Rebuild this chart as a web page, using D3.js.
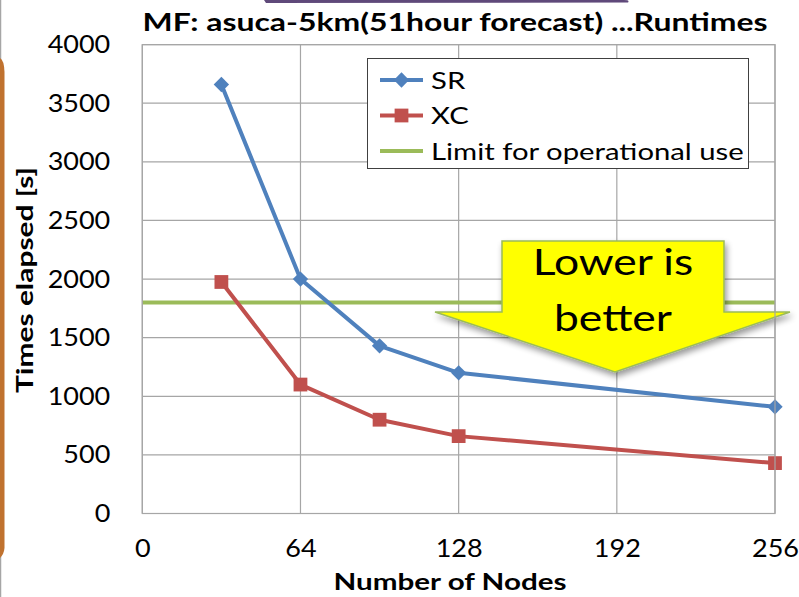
<!DOCTYPE html>
<html>
<head>
<meta charset="utf-8">
<script src="https://cdn.jsdelivr.net/npm/d3@7"></script>
<style>
  body { margin: 0; background: #fff; }
  svg { display: block; font-family: Lato, "Open Sans", sans-serif; }
</style>
</head>
<body>
<svg id="chart" width="799" height="597"></svg>
<script>
// data
const nodes = [32, 64, 96, 128, 256];
const srTimes = [3660, 2000, 1430, 1200, 910];
const xcTimes = [1975, 1100, 800, 660, 430];
const limitNodes = [0, 256];
const limitTimes = [1800, 1800];
const xTicks = [0, 64, 128, 192, 256];
const yTicks = [0, 500, 1000, 1500, 2000, 2500, 3000, 3500, 4000];

const series = [
  { name: 'SR', color: '#4f81bd', marker: 'diamond', values: srTimes.map((v, i) => ({ x: nodes[i], y: v })) },
  { name: 'XC', color: '#c0504d', marker: 'square', values: xcTimes.map((v, i) => ({ x: nodes[i], y: v })) },
  { name: 'Limit for operational use', color: '#9bbb59', marker: null, values: limitTimes.map((v, i) => ({ x: limitNodes[i], y: v })) }
];

const svg = d3.select('#chart');
const pL = 142.3, pR = 775, pT = 44.6, pB = 513.5;

const x = d3.scaleLinear().domain([0, 256]).range([pL, pR]);
const y = d3.scaleLinear().domain([0, 4000]).range([pB, pT]);

// the slide was stretched sideways, so widen text a bit
function widen(sel, k) {
  sel.each(function() {
    const w = this.getComputedTextLength();
    d3.select(this).attr('textLength', w * k).attr('lengthAdjust', 'spacingAndGlyphs');
  });
}

// slide decorations at the edges
svg.append('line').attr('x1', 0.5).attr('x2', 0.5).attr('y1', 0).attr('y2', 597)
  .attr('stroke', '#a6a6a6').attr('stroke-width', 1.5);
svg.append('path')
  .attr('d', 'M0 58 Q4 60 4.5 72 L4.5 548 Q4 554 0 558 Z')
  .attr('fill', '#c0722f');
svg.append('path')
  .attr('d', 'M264 0 L624 0 Q630 0 628 2.5 L266 3 Z')
  .attr('fill', '#5f497a');

// gridlines
const grid = svg.append('g').attr('stroke', '#a6a6a6').attr('stroke-width', 1.2);
grid.selectAll('.h').data(yTicks).enter().append('line')
  .attr('x1', pL).attr('x2', pR)
  .attr('y1', d => y(d)).attr('y2', d => y(d));
grid.selectAll('.v').data(xTicks).enter().append('line')
  .attr('y1', pT).attr('y2', pB)
  .attr('x1', d => x(d)).attr('x2', d => x(d));

// axes (labels only, Excel style)
const yAxis = svg.append('g').attr('transform', `translate(${pL},0)`)
  .call(d3.axisLeft(y).tickValues(yTicks).tickFormat(d3.format('d')).tickSize(0).tickPadding(32));
yAxis.select('.domain').remove();
yAxis.selectAll('text').attr('font-size', 25).attr('fill', '#000').attr('font-family', 'Lato')
  .call(widen, 1.08);

const xAxis = svg.append('g').attr('transform', `translate(0,${pB})`)
  .call(d3.axisBottom(x).tickValues(xTicks).tickSize(0).tickPadding(26));
xAxis.select('.domain').remove();
xAxis.selectAll('text').attr('font-size', 25).attr('fill', '#000').attr('font-family', 'Lato')
  .call(widen, 1.08);

// lines
const line = d3.line().x(d => x(d.x)).y(d => y(d.y));
const diamond = d3.symbol().type(d3.symbolDiamond2).size(150);
const square = d3.symbol().type(d3.symbolSquare).size(190);

series.slice().reverse().forEach(s => {
  svg.append('path').datum(s.values)
    .attr('d', line).attr('fill', 'none')
    .attr('stroke', s.color).attr('stroke-width', 4).attr('stroke-linejoin', 'round');
  if (s.marker) {
    svg.selectAll(null).data(s.values).enter().append('path')
      .attr('transform', d => `translate(${x(d.x)},${y(d.y)})`)
      .attr('d', s.marker === 'diamond' ? diamond() : square())
      .attr('fill', s.color);
  }
});

// "Lower is better" block arrow with shadow
const defs = svg.append('defs');
const f = defs.append('filter').attr('id', 'shadow').attr('x', '-20%').attr('y', '-20%').attr('width', '140%').attr('height', '150%');
f.append('feGaussianBlur').attr('in', 'SourceAlpha').attr('stdDeviation', 3);
f.append('feOffset').attr('dx', 2).attr('dy', 4).attr('result', 'b');
f.append('feComponentTransfer').append('feFuncA').attr('type', 'linear').attr('slope', 0.4);
const m = f.append('feMerge');
m.append('feMergeNode');
m.append('feMergeNode').attr('in', 'SourceGraphic');

svg.append('path')
  .attr('d', 'M502 241 L724 241 L724 312 L790 312 L615 372 L435 312 L502 312 Z')
  .attr('fill', '#ffff00').attr('stroke', '#9bbb59').attr('stroke-width', 1.5)
  .attr('filter', 'url(#shadow)');
svg.append('text').attr('x', 613).attr('y', 275).attr('text-anchor', 'middle')
  .attr('font-size', 37).text('Lower is').call(widen, 1.2);
svg.append('text').attr('x', 613).attr('y', 331).attr('text-anchor', 'middle')
  .attr('font-size', 37).text('better').call(widen, 1.2);

// legend
const lg = svg.append('g');
lg.append('rect').attr('x', 367.5).attr('y', 58.5).attr('width', 381).attr('height', 110)
  .attr('fill', '#fff').attr('stroke', '#404040').attr('stroke-width', 1);
series.forEach((s, i) => {
  const ly = 80 + i * 35.5;
  lg.append('line').attr('x1', 380).attr('x2', 423).attr('y1', ly).attr('y2', ly)
    .attr('stroke', s.color).attr('stroke-width', 4);
  if (s.marker) {
    lg.append('path').attr('transform', `translate(401.5,${ly})`)
      .attr('d', s.marker === 'diamond' ? diamond() : square()).attr('fill', s.color);
  }
  lg.append('text').attr('x', 431).attr('y', ly).attr('dy', '0.36em')
    .attr('font-size', 24).text(s.name).call(widen, 1.22);
});

// plot border
svg.append('rect').attr('x', pL).attr('y', pT).attr('width', pR - pL).attr('height', pB - pT)
  .attr('fill', 'none').attr('stroke', '#a6a6a6').attr('stroke-width', 1.2);

// titles
svg.append('text').attr('x', 455).attr('y', 31).attr('text-anchor', 'middle')
  .attr('font-size', 24).attr('font-weight', 'bold')
  .attr('textLength', 625).attr('lengthAdjust', 'spacingAndGlyphs')
  .text('MF: asuca-5km(51hour forecast) ...Runtimes');
svg.append('text').attr('x', 450).attr('y', 590).attr('text-anchor', 'middle')
  .attr('font-size', 23).attr('font-weight', 'bold')
  .attr('textLength', 233).attr('lengthAdjust', 'spacingAndGlyphs')
  .text('Number of Nodes');
svg.append('text').attr('transform', 'translate(33,280) rotate(-90)').attr('text-anchor', 'middle')
  .attr('font-size', 23).attr('font-weight', 'bold')
  .attr('textLength', 226).attr('lengthAdjust', 'spacingAndGlyphs')
  .text('Times elapsed [s]');
</script>
</body>
</html>
